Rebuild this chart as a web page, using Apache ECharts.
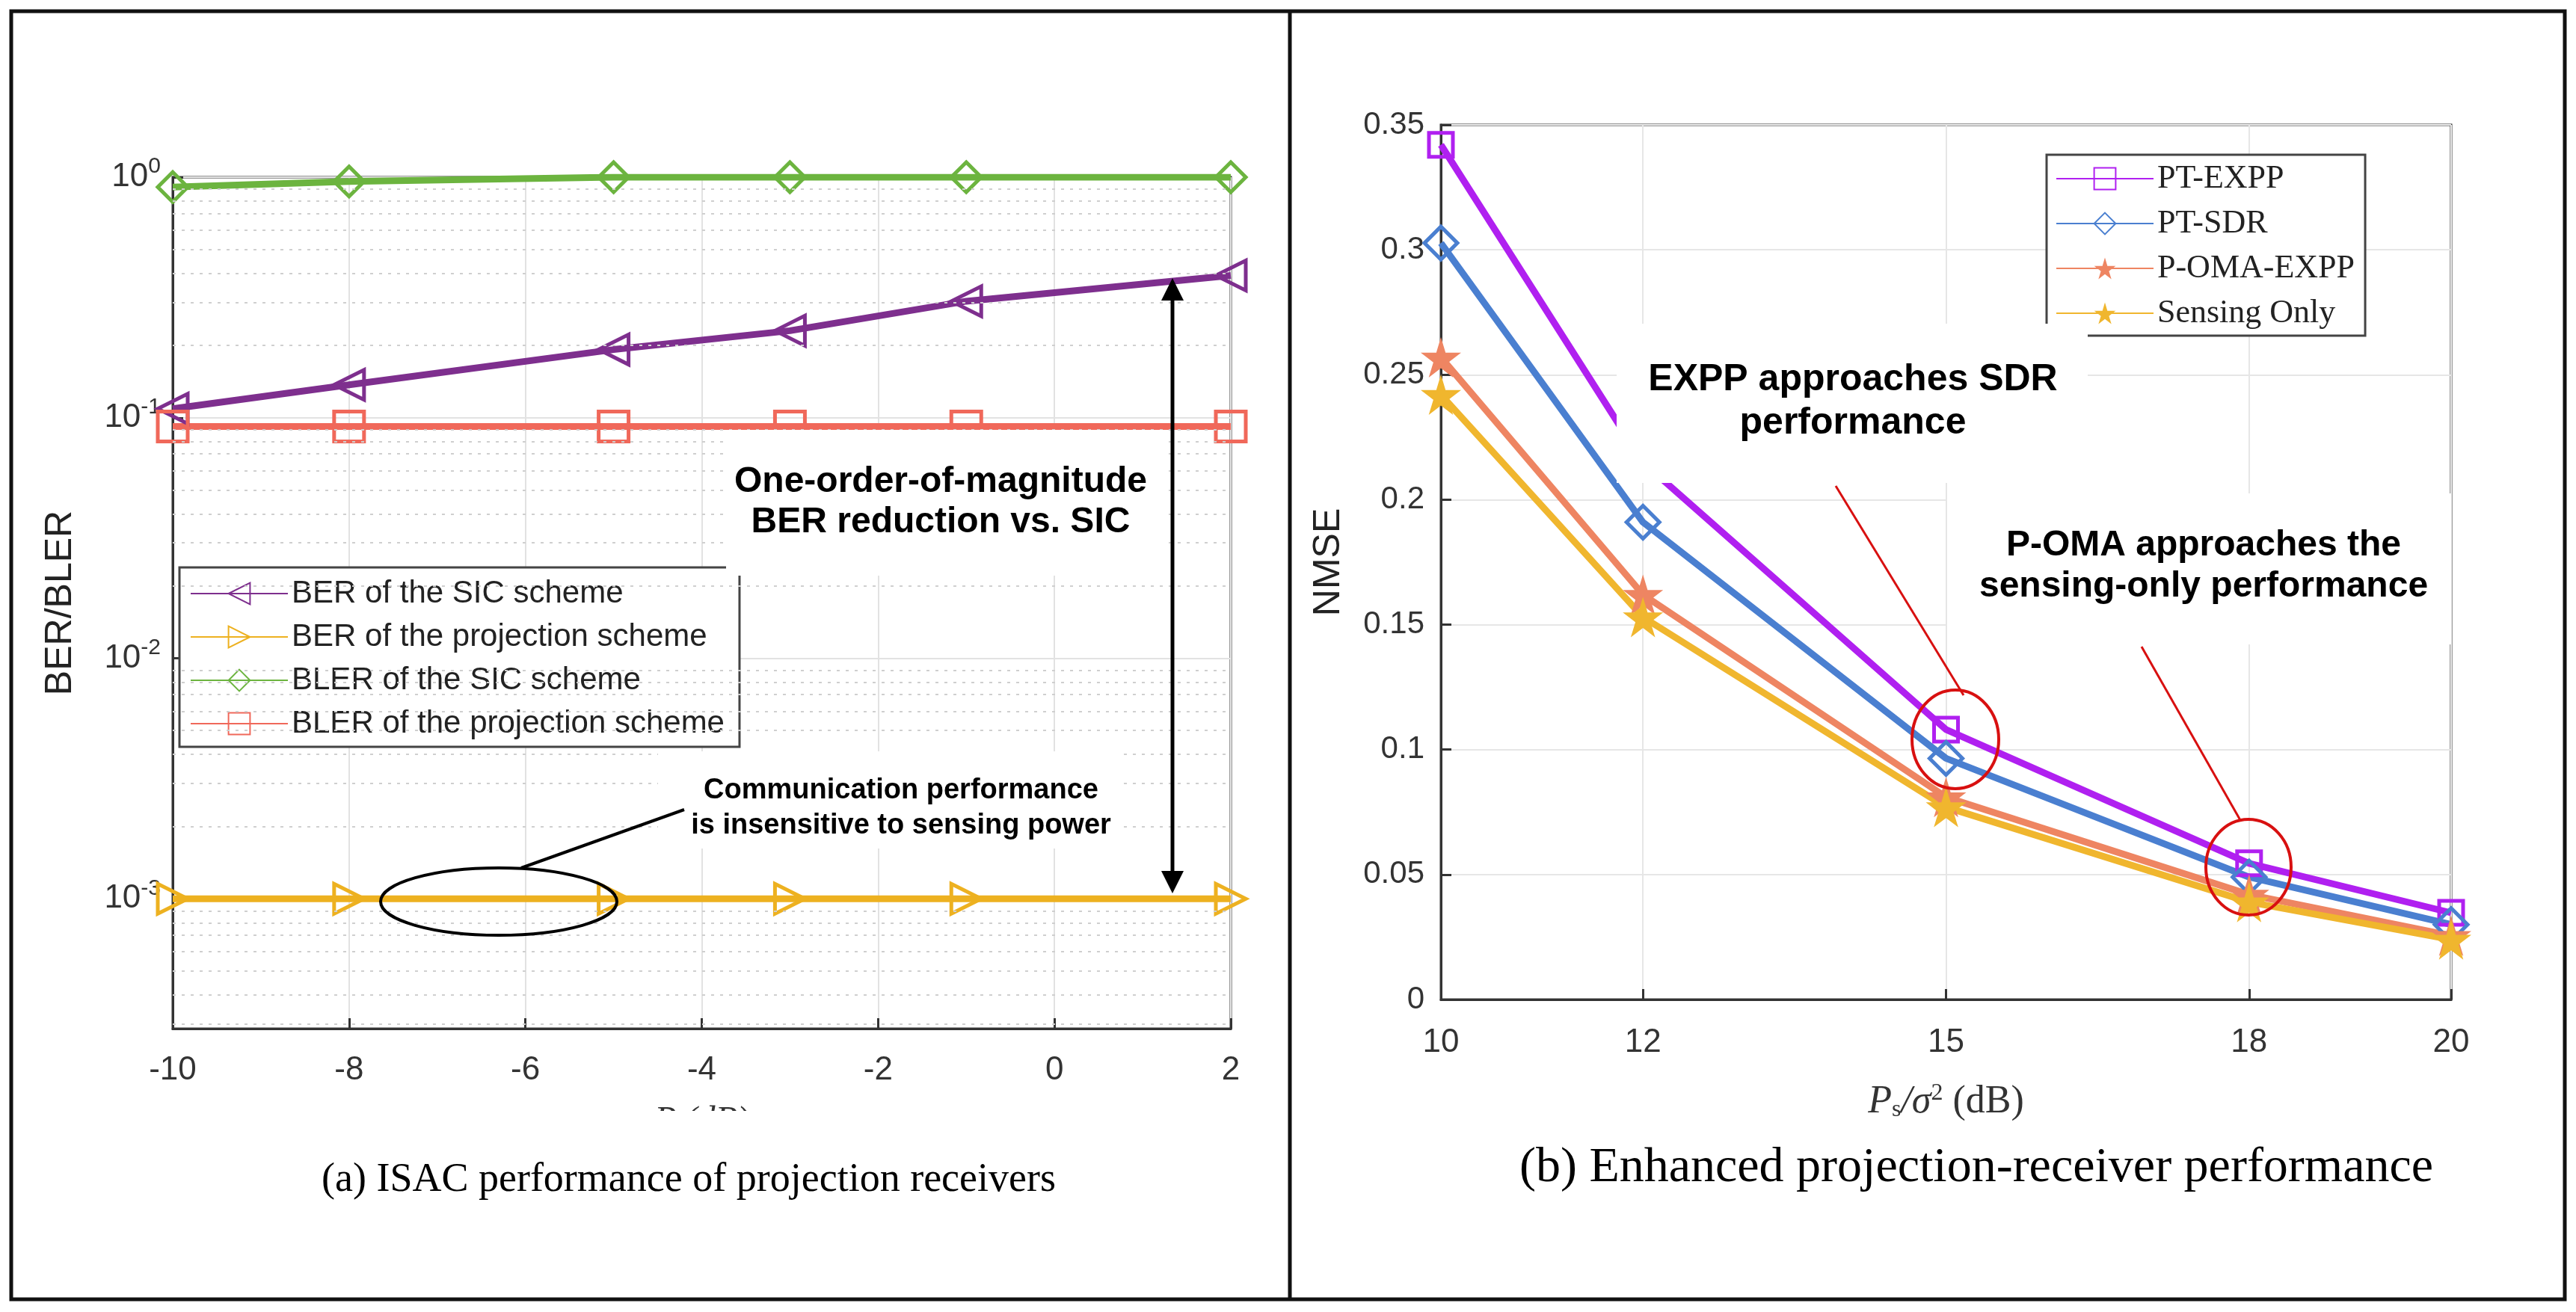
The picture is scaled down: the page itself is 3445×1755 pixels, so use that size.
<!DOCTYPE html>
<html>
<head>
<meta charset="utf-8">
<script src="https://cdn.jsdelivr.net/npm/echarts@6/dist/echarts.min.js"></script>
<style>
  html, body { margin: 0; padding: 0; background: #fff; }
  #chart { width: 3445px; height: 1755px; }
</style>
</head>
<body>
<div id="chart"></div>
<script>
// left panel: BER / BLER vs sensing power
const psLeft = [-10, -8, -5, -3, -1, 2];
const berSic = [0.109, 0.137, 0.192, 0.23, 0.305, 0.39];
const berProj = [0.001, 0.001, 0.001, 0.001, 0.001, 0.001];
const blerSic = [0.91, 0.96, 1, 1, 1, 1];
const blerProj = [0.092, 0.092, 0.092, 0.092, 0.092, 0.092];
const leftDecades = [-3, -2, -1, 0];

// right panel: NMSE vs Ps/sigma^2
const psRight = [10, 12, 15, 18, 20];
const ptExpp = [0.342, 0.215, 0.108, 0.0545, 0.0347];
const ptSdr = [0.3027, 0.191, 0.0965, 0.049, 0.030];
const pOmaExpp = [0.257, 0.162, 0.081, 0.042, 0.0255];
const sensingOnly = [0.242, 0.153, 0.077, 0.039, 0.024];

const lg = v => Math.log10(v);
const pairs = (xs, ys, f) => xs.map((x, i) => [x, f ? f(ys[i]) : ys[i]]);

// minor log gridlines (2..9 x decade) inside the axis range
const minorLines = [];
[-4, -3, -2, -1].forEach(d => {
  for (let k = 2; k <= 9; k++) {
    const v = d + Math.log10(k);
    if (v > -3.54 && v < 0) minorLines.push({ yAxis: v });
  }
});

const star = 'path://M50,0 L61,35 L98,35 L68,57 L79,91 L50,70 L21,91 L32,57 L2,35 L39,35 Z';
const sans = 'Liberation Sans';
const serif = 'Liberation Serif';

function leftSeries(name, data, color, symbol, rot) {
  return {
    name, type: 'line', xAxisIndex: 0, yAxisIndex: 0,
    data: pairs(psLeft, data, lg),
    symbol, symbolSize: 40, symbolRotate: rot || 0,
    lineStyle: { color, width: 9 },
    itemStyle: { color: 'rgba(255,255,255,0)', borderColor: color, borderWidth: 5 },
    z: 3
  };
}
function rightSeries(name, data, color, symbol, filled, size) {
  return {
    name, type: 'line', xAxisIndex: 1, yAxisIndex: 1,
    data: pairs(psRight, data),
    symbol, symbolSize: size,
    lineStyle: { color, width: 9 },
    itemStyle: filled ? { color } : { color: 'rgba(255,255,255,0)', borderColor: color, borderWidth: 5 },
    z: 3
  };
}

const supLabel = v => '{b|10}{s|' + Math.round(v) + '}';
const axisLine = { onZero: false, lineStyle: { color: '#333', width: 3 } };

const chart = echarts.init(document.getElementById('chart'));
chart.setOption({
  backgroundColor: '#fff',
  animation: false,
  grid: [
    { left: 231, right: 1799, top: 237, bottom: 379, show: true, borderColor: '#333', borderWidth: 3 },
    { left: 1927, right: 167, top: 167, bottom: 418, show: true, borderColor: '#333', borderWidth: 3 }
  ],
  xAxis: [
    {
      gridIndex: 0, type: 'value', min: -10, max: 2, interval: 2,
      axisLine,
      axisTick: { inside: true, length: 14, lineStyle: { color: '#333', width: 3 } },
      axisLabel: { fontSize: 44, fontFamily: sans, color: '#333', margin: 34 },
      splitLine: { show: true, lineStyle: { color: '#e2e2e2', width: 2 } },
      name: 'P (dB)', nameLocation: 'middle', nameGap: 100,
      nameTextStyle: { fontSize: 48, fontFamily: serif, fontStyle: 'italic', color: '#333' }
    },
    {
      gridIndex: 1, type: 'value', min: 10, max: 20,
      axisLine,
      axisTick: { inside: true, length: 14, customValues: psRight, lineStyle: { color: '#333', width: 3 } },
      axisLabel: { fontSize: 44, fontFamily: sans, color: '#333', margin: 36, customValues: psRight },
      splitLine: { show: true, lineStyle: { color: '#e6e6e6', width: 2 } },
      name: '{i|P}{sub|s}{i|/σ}{sup|2} (dB)', nameLocation: 'middle', nameGap: 110,
      nameTextStyle: {
        fontSize: 52, fontFamily: serif, color: '#333',
        rich: {
          i: { fontSize: 52, fontFamily: serif, fontStyle: 'italic', color: '#333' },
          sub: { fontSize: 32, fontFamily: serif, color: '#333', verticalAlign: 'bottom', padding: [16, 0, 0, 0] },
          sup: { fontSize: 32, fontFamily: serif, color: '#333', verticalAlign: 'top', padding: [0, 0, 22, 0] }
        }
      }
    }
  ],
  yAxis: [
    {
      gridIndex: 0, type: 'value', min: -3.54, max: 0,
      axisLine,
      axisTick: { inside: true, length: 14, customValues: leftDecades, lineStyle: { color: '#333', width: 3 } },
      axisLabel: {
        customValues: leftDecades, formatter: supLabel, margin: 16,
        rich: {
          b: { fontSize: 44, fontFamily: sans, color: '#333' },
          s: { fontSize: 30, fontFamily: sans, color: '#333', verticalAlign: 'top', padding: [0, 0, 28, 0] }
        }
      },
      splitLine: { show: true, lineStyle: { color: '#e2e2e2', width: 2 } },
      name: 'BER/BLER', nameLocation: 'middle', nameGap: 125,
      nameTextStyle: { fontSize: 50, fontFamily: sans, color: '#222' }
    },
    {
      gridIndex: 1, type: 'value', min: 0, max: 0.35, interval: 0.05,
      axisLine,
      axisTick: { inside: true, length: 14, lineStyle: { color: '#333', width: 3 } },
      axisLabel: { fontSize: 42, fontFamily: sans, color: '#333', margin: 22 },
      splitLine: { show: true, lineStyle: { color: '#e6e6e6', width: 2 } },
      name: 'NMSE', nameLocation: 'middle', nameGap: 125,
      nameTextStyle: { fontSize: 50, fontFamily: sans, color: '#222' }
    }
  ],
  legend: [
    {
      data: ['BER of the SIC scheme', 'BER of the projection scheme', 'BLER of the SIC scheme', 'BLER of the projection scheme'],
      orient: 'vertical', left: 240, top: 759, padding: [14, 20, 10, 14], itemGap: 16,
      itemWidth: 130, itemHeight: 36,
      backgroundColor: '#fff', borderColor: '#444', borderWidth: 3,
      textStyle: { fontSize: 42, fontFamily: sans, color: '#222' }
    },
    {
      data: ['PT-EXPP', 'PT-SDR', 'P-OMA-EXPP', 'Sensing Only'],
      orient: 'vertical', left: 2737, top: 207, padding: [10, 14, 8, 12], itemGap: 16,
      itemWidth: 130, itemHeight: 36,
      backgroundColor: '#fff', borderColor: '#444', borderWidth: 3,
      textStyle: { fontSize: 44, fontFamily: serif, color: '#222' }
    }
  ],
  series: [
    leftSeries('BER of the SIC scheme', berSic, '#7E2F8E', 'triangle', 90),
    leftSeries('BER of the projection scheme', berProj, '#EDB120', 'triangle', -90),
    leftSeries('BLER of the SIC scheme', blerSic, '#6CB43F', 'diamond'),
    leftSeries('BLER of the projection scheme', blerProj, '#F0685A', 'rect'),
    {
      name: 'minor', type: 'line', xAxisIndex: 0, yAxisIndex: 0, data: [], silent: true,
      markLine: {
        silent: true, symbol: 'none', label: { show: false },
        lineStyle: { color: '#cfcfcf', type: [4, 8], width: 2 },
        data: minorLines
      }
    },
    rightSeries('PT-EXPP', ptExpp, '#B020F0', 'rect', false, 32),
    rightSeries('PT-SDR', ptSdr, '#4A7FD0', 'diamond', false, 44),
    rightSeries('P-OMA-EXPP', pOmaExpp, '#EE8562', star, true, 54),
    rightSeries('Sensing Only', sensingOnly, '#F0B62E', star, true, 54)
  ],
  graphic: [
    // panel frames
    { type: 'rect', shape: { x: 15, y: 15, width: 3415, height: 1723 }, style: { fill: null, stroke: '#111', lineWidth: 5 }, z: 100 },
    { type: 'line', shape: { x1: 1725, y1: 15, x2: 1725, y2: 1738 }, style: { stroke: '#111', lineWidth: 5 }, z: 100 },
    // clip the left x-axis name like the reference
    { type: 'rect', shape: { x: 700, y: 1486, width: 500, height: 60 }, style: { fill: '#fff' }, z: 90 },
    // left annotations
    { type: 'rect', shape: { x: 971, y: 575, width: 591, height: 195 }, style: { fill: '#fff' }, z: 50 },
    { type: 'text', x: 1258, y: 672, style: { text: 'One-order-of-magnitude\nBER reduction vs. SIC', font: 'bold 48px "Liberation Sans"', fill: '#000', align: 'center', verticalAlign: 'middle', lineHeight: 54 }, z: 51 },
    { type: 'line', shape: { x1: 1568, y1: 395, x2: 1568, y2: 1175 }, style: { stroke: '#000', lineWidth: 5 }, z: 52 },
    { type: 'polygon', shape: { points: [[1568, 372], [1553, 402], [1583, 402]] }, style: { fill: '#000' }, z: 52 },
    { type: 'polygon', shape: { points: [[1568, 1195], [1553, 1165], [1583, 1165]] }, style: { fill: '#000' }, z: 52 },
    { type: 'rect', shape: { x: 880, y: 1005, width: 620, height: 130 }, style: { fill: '#fff' }, z: 50 },
    { type: 'text', x: 1205, y: 1081, style: { text: 'Communication performance\nis insensitive to sensing power', font: 'bold 38px "Liberation Sans"', fill: '#000', align: 'center', verticalAlign: 'middle', lineHeight: 47 }, z: 51 },
    { type: 'line', shape: { x1: 915, y1: 1083, x2: 697, y2: 1161 }, style: { stroke: '#000', lineWidth: 4 }, z: 52 },
    { type: 'ellipse', shape: { cx: 667, cy: 1206, rx: 158, ry: 45 }, style: { fill: null, stroke: '#000', lineWidth: 4 }, z: 52 },
    { type: 'text', x: 921, y: 1579, style: { text: '(a) ISAC performance of projection receivers', font: '54px "Liberation Serif"', fill: '#000', align: 'center', verticalAlign: 'middle' }, z: 51 },
    // right annotations
    { type: 'rect', shape: { x: 2162, y: 433, width: 630, height: 213 }, style: { fill: '#fff' }, z: 50 },
    { type: 'text', x: 2478, y: 537, style: { text: 'EXPP approaches SDR\nperformance', font: 'bold 50px "Liberation Sans"', fill: '#000', align: 'center', verticalAlign: 'middle', lineHeight: 58 }, z: 51 },
    { type: 'line', shape: { x1: 2455, y1: 650, x2: 2626, y2: 930 }, style: { stroke: '#d81010', lineWidth: 3 }, z: 52 },
    { type: 'ellipse', shape: { cx: 2615, cy: 989, rx: 58, ry: 66 }, style: { fill: null, stroke: '#d81010', lineWidth: 4 }, z: 52 },
    { type: 'rect', shape: { x: 2604, y: 660, width: 674, height: 202 }, style: { fill: '#fff' }, z: 50 },
    { type: 'text', x: 2947, y: 757, style: { text: 'P-OMA approaches the\nsensing-only performance', font: 'bold 48px "Liberation Sans"', fill: '#000', align: 'center', verticalAlign: 'middle', lineHeight: 55 }, z: 51 },
    { type: 'line', shape: { x1: 2864, y1: 865, x2: 2996, y2: 1097 }, style: { stroke: '#d81010', lineWidth: 3 }, z: 52 },
    { type: 'ellipse', shape: { cx: 3007, cy: 1160, rx: 57, ry: 64 }, style: { fill: null, stroke: '#d81010', lineWidth: 4 }, z: 52 },
    { type: 'text', x: 2643, y: 1563, style: { text: '(b) Enhanced projection-receiver performance', font: '66px "Liberation Serif"', fill: '#000', align: 'center', verticalAlign: 'middle' }, z: 51 }
  ]
});
window.addEventListener('resize', () => chart.resize());
</script>
</body>
</html>
